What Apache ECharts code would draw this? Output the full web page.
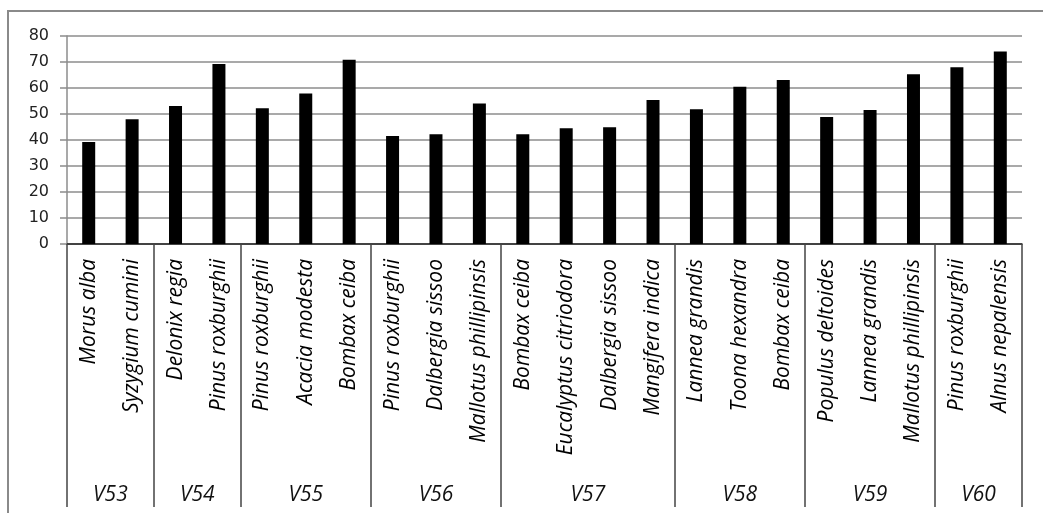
<!DOCTYPE html>
<html>
<head>
<meta charset="utf-8">
<script src="https://cdn.jsdelivr.net/npm/echarts@6/dist/echarts.min.js"></script>
<style>
  html, body { margin: 0; padding: 0; background: #fff; }
  #chart { width: 1043px; height: 513px; }
</style>
</head>
<body>
<div id="chart"></div>
<script>
// Species per site, in drawing order
const species = [
  'Morus alba', 'Syzygium cumini',
  'Delonix regia', 'Pinus roxburghii',
  'Pinus roxburghii', 'Acacia modesta', 'Bombax ceiba',
  'Pinus roxburghii', 'Dalbergia sissoo', 'Mallotus phillipinsis',
  'Bombax ceiba', 'Eucalyptus citriodora', 'Dalbergia sissoo', 'Mangifera indica',
  'Lannea grandis', 'Toona hexandra', 'Bombax ceiba',
  'Populus deltoides', 'Lannea grandis', 'Mallotus phillipinsis',
  'Pinus roxburghii', 'Alnus nepalensis'
];
const values = [
  39.2, 48.0,
  53.1, 69.2,
  52.2, 57.9, 70.9,
  41.5, 42.2, 54.0,
  42.2, 44.5, 44.9, 55.4,
  51.8, 60.5, 63.1,
  48.8, 51.5, 65.3,
  68.0, 74.0
];
// Site groups and how many species each holds
const groups = ['V53', 'V54', 'V55', 'V56', 'V57', 'V58', 'V59', 'V60'];
const groupSizes = [2, 2, 3, 3, 4, 3, 3, 2];
const yTicks = { min: 0, max: 80, step: 10 };

// Group boundaries and centres in category units
const bounds = [0];
groupSizes.forEach(n => bounds.push(bounds[bounds.length - 1] + n));
const centres = groups.map((g, i) => (bounds[i] + bounds[i + 1]) / 2);
const centreName = {};
centres.forEach((c, i) => { centreName[c] = groups[i]; });

const chart = echarts.init(document.getElementById('chart'), null, { renderer: 'canvas' });
chart.setOption({
  backgroundColor: '#fff',
  animation: false,
  graphic: [{
    type: 'rect',
    shape: { x: 8, y: 11, width: 1200, height: 700 },
    style: { fill: 'none', stroke: '#8a8a8a', lineWidth: 2 },
    silent: true, z: -1
  }],
  grid: { left: 67, right: 21, top: 36, bottom: 269, containLabel: false },
  xAxis: [{
    type: 'category',
    data: species,
    boundaryGap: true,
    axisLine: { show: true, lineStyle: { color: '#222', width: 1.5 } },
    axisTick: { show: false },
    axisLabel: {
      rotate: 90,
      interval: 0,
      margin: 15,
      color: '#000',
      fontFamily: 'Open Sans',
      fontStyle: 'italic',
      fontSize: 21
    }
  }, {
    type: 'value',
    min: 0,
    max: species.length,
    position: 'bottom',
    axisLine: { show: false },
    splitLine: { show: false },
    axisTick: {
      show: true,
      customValues: bounds,
      length: 263,
      lineStyle: { color: '#444', width: 1.5 }
    },
    axisLabel: {
      show: true,
      customValues: centres,
      formatter: v => centreName[v] || '',
      margin: 241,
      color: '#111',
      fontFamily: 'Open Sans',
      fontStyle: 'italic',
      fontSize: 21
    }
  }],
  yAxis: {
    type: 'value',
    min: yTicks.min,
    max: yTicks.max,
    interval: yTicks.step,
    axisLine: { show: true, lineStyle: { color: '#8c8c8c', width: 1.5 } },
    axisTick: { show: true, length: 7, lineStyle: { color: '#8c8c8c', width: 1.5 } },
    splitLine: { show: true, lineStyle: { color: '#8c8c8c', width: 1.5 } },
    axisLabel: {
      margin: 18,
      color: '#222',
      fontFamily: 'DejaVu Sans',
      fontSize: 16
    }
  },
  series: [{
    type: 'bar',
    data: values,
    barWidth: 13,
    itemStyle: { color: '#000' }
  }]
});
</script>
</body>
</html>
